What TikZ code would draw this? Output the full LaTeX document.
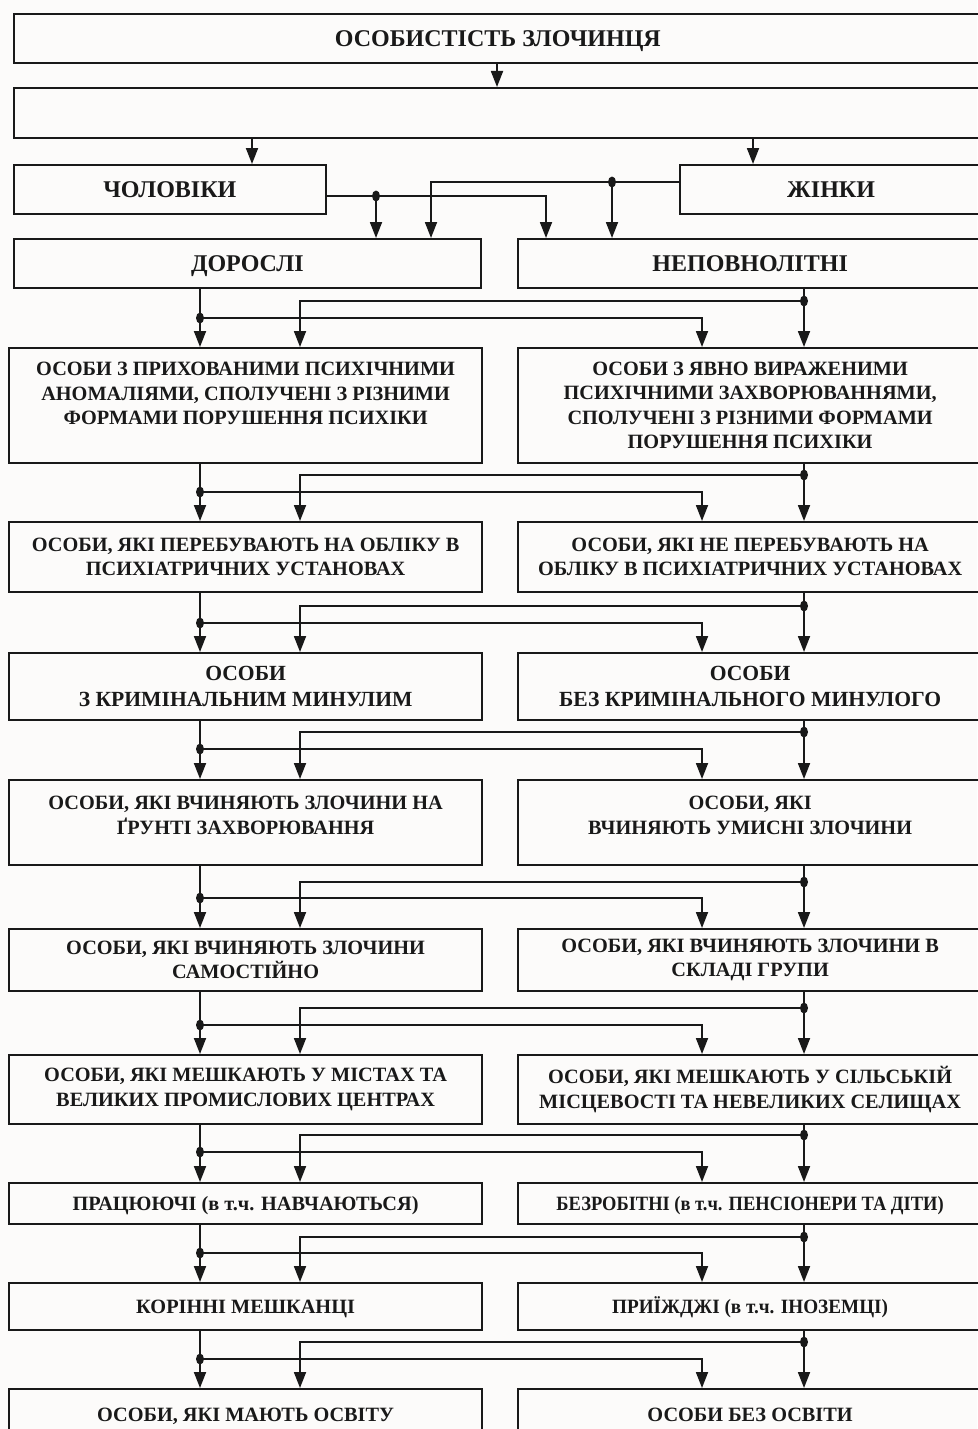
\documentclass[tikz,border=0pt]{standalone}
\usepackage{graphicx}
\usepackage{fontspec}
\setmainfont{Liberation Serif}
\usetikzlibrary{arrows.meta,calc}
\definecolor{bg}{RGB}{252,251,250}
\definecolor{ink}{RGB}{25,25,25}
\tikzset{
  box/.style={draw=ink, line width=2.2pt, anchor=north west, inner sep=0pt,
              align=center, font=\bfseries\fontsize{20.3}{24.5}\selectfont, text=ink},
  bigbox/.style={box, font=\bfseries\fontsize{24}{28}\selectfont},
  one/.style={text height=13.4pt, text depth=0pt},
  bigone/.style={text height=16pt, text depth=0pt},
  conn/.style={draw=ink, line width=1.8pt},
  arr/.style={-{Triangle[length=16pt,width=12pt]}},
  dot/.style={fill=ink}
}
\begin{document}
\begin{tikzpicture}[x=1pt,y=-1pt]
\useasboundingbox (0,0) rectangle (977,1429);
\fill[bg] (0,0) rectangle (977,1429);

% top rows
\node[bigbox, bigone, minimum width=968.5, minimum height=49] (b1) at (12.5,13) {ОСОБИСТІСТЬ ЗЛОЧИНЦЯ};
\node[bigbox, minimum width=968.5, minimum height=50] (b2) at (12.5,87) {};
\node[bigbox, bigone, minimum width=312.5, minimum height=49] (men) at (12.5,164) {ЧОЛОВІКИ};
\node[bigbox, bigone, minimum width=302, minimum height=49] (women) at (679,164) {ЖІНКИ};
\node[bigbox, bigone, minimum width=467.5, minimum height=49] (l4) at (12.5,238) {ДОРОСЛІ};
\node[bigbox, bigone, minimum width=464, minimum height=49] (r4) at (517,238) {НЕПОВНОЛІТНІ};

% left column
\node[box, minimum width=473, minimum height=115] (l5) at (8,347) {ОСОБИ З ПРИХОВАНИМИ ПСИХІЧНИМИ\\АНОМАЛІЯМИ, СПОЛУЧЕНІ З РІЗНИМИ\\ФОРМАМИ ПОРУШЕННЯ ПСИХІКИ\\\mbox{}};
\node[box, minimum width=473, minimum height=70] (l6) at (8,521) {ОСОБИ, ЯКІ ПЕРЕБУВАЮТЬ НА ОБЛІКУ В\\ПСИХІАТРИЧНИХ УСТАНОВАХ};
\node[box, minimum width=473, minimum height=67, font=\bfseries\fontsize{21.6}{25.5}\selectfont] (l7) at (8,652) {ОСОБИ\\З КРИМІНАЛЬНИМ МИНУЛИМ};
\node[box, minimum width=473, minimum height=85] (l8) at (8,779) {ОСОБИ, ЯКІ ВЧИНЯЮТЬ ЗЛОЧИНИ НА\\ҐРУНТІ ЗАХВОРЮВАННЯ\\[-10pt]\mbox{}};
\node[box, minimum width=473, minimum height=62] (l9) at (8,928) {ОСОБИ, ЯКІ ВЧИНЯЮТЬ ЗЛОЧИНИ\\САМОСТІЙНО};
\node[box, minimum width=473, minimum height=69] (l10) at (8,1054) {ОСОБИ, ЯКІ МЕШКАЮТЬ У МІСТАХ ТА\\ВЕЛИКИХ ПРОМИСЛОВИХ ЦЕНТРАХ};
\node[box, one, minimum width=473, minimum height=41] (l11) at (8,1182) {ПРАЦЮЮЧІ (в т.ч. НАВЧАЮТЬСЯ)};
\node[box, one, minimum width=473, minimum height=47] (l12) at (8,1282) {КОРІННІ МЕШКАНЦІ};
\node[box, one, minimum width=473, minimum height=52] (l13) at (8,1388) {ОСОБИ, ЯКІ МАЮТЬ ОСВІТУ};

% right column
\node[box, minimum width=464, minimum height=115] (r5) at (517,347) {ОСОБИ З ЯВНО ВИРАЖЕНИМИ\\ПСИХІЧНИМИ ЗАХВОРЮВАННЯМИ,\\СПОЛУЧЕНІ З РІЗНИМИ ФОРМАМИ\\ПОРУШЕННЯ ПСИХІКИ};
\node[box, minimum width=464, minimum height=70] (r6) at (517,521) {ОСОБИ, ЯКІ НЕ ПЕРЕБУВАЮТЬ НА\\ОБЛІКУ В ПСИХІАТРИЧНИХ УСТАНОВАХ};
\node[box, minimum width=464, minimum height=67, font=\bfseries\fontsize{21.6}{25.5}\selectfont] (r7) at (517,652) {ОСОБИ\\БЕЗ КРИМІНАЛЬНОГО МИНУЛОГО};
\node[box, minimum width=464, minimum height=85] (r8) at (517,779) {ОСОБИ, ЯКІ\\ВЧИНЯЮТЬ УМИСНІ ЗЛОЧИНИ\\[-10pt]\mbox{}};
\node[box, minimum width=464, minimum height=62] (r9) at (517,928) {ОСОБИ, ЯКІ ВЧИНЯЮТЬ ЗЛОЧИНИ В\\СКЛАДІ ГРУПИ};
\node[box, minimum width=464, minimum height=69] (r10) at (517,1054) {ОСОБИ, ЯКІ МЕШКАЮТЬ У СІЛЬСЬКІЙ\\МІСЦЕВОСТІ ТА НЕВЕЛИКИХ СЕЛИЩАХ};
\node[box, one, minimum width=464, minimum height=41] (r11) at (517,1182) {\scalebox{0.91}[1]{БЕЗРОБІТНІ (в т.ч. ПЕНСІОНЕРИ ТА ДІТИ)}};
\node[box, one, minimum width=464, minimum height=47] (r12) at (517,1282) {\scalebox{0.945}[1]{ПРИЇЖДЖІ (в т.ч. ІНОЗЕМЦІ)}};
\node[box, one, minimum width=464, minimum height=52] (r13) at (517,1388) {ОСОБИ БЕЗ ОСВІТИ};

% top connectors
\coordinate (c1) at (497,0);
\coordinate (cm) at (252,0);
\coordinate (cw) at (753,0);
\draw[conn,arr] (c1 |- b1.south) -- (c1 |- b2.north);
\draw[conn,arr] (cm |- b2.south) -- (cm |- men.north);
\draw[conn,arr] (cw |- b2.south) -- (cw |- women.north);

% men / women to adults / minors
\coordinate (dm) at (376,196);
\coordinate (dw) at (612,182);
\coordinate (xm) at (546,0);
\coordinate (xw) at (431,0);
\draw[conn,arr] (men.east |- dm) -| (xm |- r4.north);
\draw[conn,arr] (dm) -- (dm |- l4.north);
\draw[conn,arr] (women.west |- dw) -| (xw |- l4.north);
\draw[conn,arr] (dw) -- (dw |- r4.north);
\fill[dot] (dm) ellipse (4 and 5.5);
\fill[dot] (dw) ellipse (4 and 5.5);

% repeated connectors
\coordinate (xlb) at (300,0);
\coordinate (xrb) at (702,0);
\foreach \u/\v/\yr/\yl in {4/5/301/318, 5/6/475/492, 6/7/606/623, 7/8/732/749,
    8/9/882/898, 9/10/1008/1025, 10/11/1135/1152, 11/12/1237/1253, 12/13/1342/1359}{
  \coordinate (dl\u) at (200,\yl);
  \coordinate (dr\u) at (804,\yr);
  \draw[conn,arr] (dl\u |- l\u.south) -- (dl\u |- l\v.north);
  \draw[conn,arr] (dr\u |- r\u.south) -- (dr\u |- r\v.north);
  \draw[conn,arr] (dl\u) -| (xrb |- r\v.north);
  \draw[conn,arr] (dr\u) -| (xlb |- l\v.north);
  \fill[dot] (dl\u) ellipse (4 and 5.5);
  \fill[dot] (dr\u) ellipse (4 and 5.5);
}
\end{tikzpicture}
\end{document}
